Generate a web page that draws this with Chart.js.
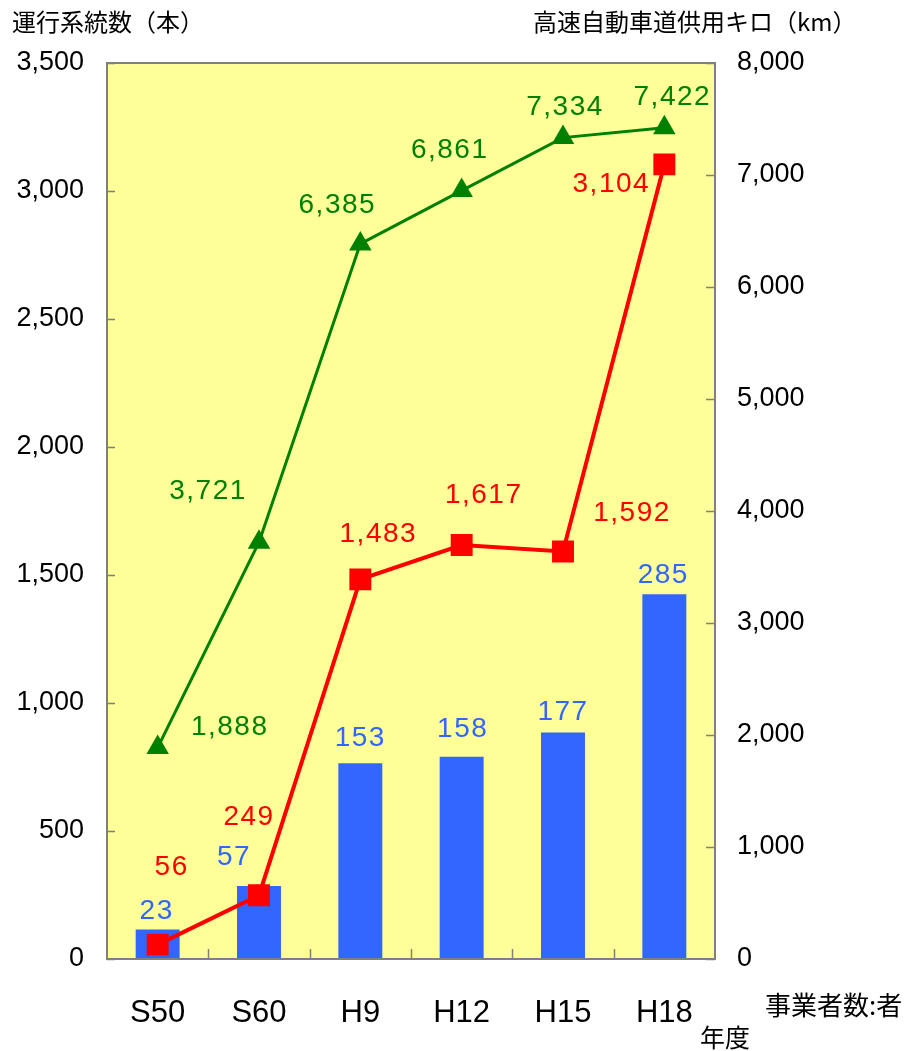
<!DOCTYPE html>
<html lang="ja">
<head>
<meta charset="utf-8">
<title>運行系統数と高速自動車道供用キロ</title>
<script src="https://cdn.jsdelivr.net/npm/chart.js@4.4.0/dist/chart.umd.min.js"></script>
<style>
  html, body { margin: 0; padding: 0; background: #ffffff; }
  #chartWrap { position: relative; width: 911px; height: 1051px; }
</style>
</head>
<body>
<div id="chartWrap"><canvas id="routeChart" width="911" height="1051"></canvas></div>
<script>
const years = ['S50', 'S60', 'H9', 'H12', 'H15', 'H18'];
const operatorCounts = [23, 57, 153, 158, 177, 285];        // 事業者数 (者)
const routeCounts = [56, 249, 1483, 1617, 1592, 3104];      // 運行系統数 (本)
const expresswayKm = [1888, 3721, 6385, 6861, 7334, 7422];  // 高速自動車道供用キロ (km)

const routeTicks = { max: 3500, step: 500 };
const kmTicks = { max: 8000, step: 1000 };
const operatorMax = 700;   // bars share the left scale at 1 : 5

// value labels are nudged off their marks by these pixel offsets
const operatorLabelShift = [[-2, -18], [-26, -29], [-1, -25], [0, -27], [-1, -20], [-2, -19]];
const routeLabelShift = [[13, -77], [-11, -78], [17, -45], [21, -50], [68, -38], [-54, 20]];
const kmLabelShift = [[71, -20], [-52, -51], [-24, -39], [-13, -40], [1, -30], [7, -30]];

const COLORS = {
    plot: '#ffff99',
    frame: '#808080',
    bar: '#3366ff',
    route: '#ff0000',
    km: '#008000',
    text: '#000000'
};
const NUM_FONT = "'Liberation Sans Narrow', 'Liberation Sans', sans-serif";
const JP_FONT = "'Noto Sans CJK JP', sans-serif";

const fmt = v => v.toLocaleString('en-US');

const plotDecor = {
    id: 'plotDecor',
    beforeDatasetsDraw(chart) {
        const { ctx, chartArea: a } = chart;
        ctx.save();
        ctx.fillStyle = COLORS.plot;
        ctx.fillRect(a.left, a.top, a.width, a.height);
        ctx.restore();
    },
    afterDatasetsDraw(chart) {
        const { ctx, chartArea: a, scales } = chart;
        ctx.save();
        ctx.strokeStyle = COLORS.frame;
        ctx.lineWidth = 2;
        ctx.strokeRect(a.left, a.top, a.width, a.height);

        // inward tick marks
        ctx.beginPath();
        for (let v = 0; v <= routeTicks.max; v += routeTicks.step) {
            const y = Math.round(scales.y.getPixelForValue(v)) + 0.5;
            ctx.moveTo(a.left, y);
            ctx.lineTo(a.left + 8, y);
        }
        for (let v = 0; v <= kmTicks.max; v += kmTicks.step) {
            const y = Math.round(scales.y2.getPixelForValue(v)) + 0.5;
            ctx.moveTo(a.right, y);
            ctx.lineTo(a.right - 9, y);
        }
        for (let i = 1; i < years.length; i++) {
            const x = Math.round(scales.x.getPixelForValue(i - 0.5)) + 0.5;
            ctx.moveTo(x, a.bottom);
            ctx.lineTo(x, a.bottom - 10);
        }
        ctx.lineWidth = 1.5;
        ctx.stroke();

        // value labels
        ctx.font = '28px ' + NUM_FONT;
        ctx.letterSpacing = '1.5px';
        ctx.textAlign = 'center';
        ctx.textBaseline = 'middle';
        const series = [
            [0, operatorCounts, operatorLabelShift, COLORS.bar],
            [1, routeCounts, routeLabelShift, COLORS.route],
            [2, expresswayKm, kmLabelShift, COLORS.km]
        ];
        series.forEach(([idx, values, shift, color]) => {
            const meta = chart.getDatasetMeta(idx);
            ctx.fillStyle = color;
            meta.data.forEach((el, i) => {
                ctx.fillText(fmt(values[i]), el.x + shift[i][0] + 1, el.y + shift[i][1]);
            });
        });
        ctx.restore();
    },
    afterDraw(chart) {
        const { ctx } = chart;
        ctx.save();
        ctx.fillStyle = COLORS.text;
        ctx.textBaseline = 'middle';
        ctx.textAlign = 'left';
        ctx.font = '24px ' + JP_FONT;
        ctx.fillText('運行系統数（本）', 12, 22);
        ctx.fillText('高速自動車道供用キロ（km）', 533, 22);
        ctx.font = '26px ' + JP_FONT;
        ctx.fillText('事業者数:者', 765, 1005);
        ctx.font = '25px ' + JP_FONT;
        ctx.fillText('年度', 700, 1037);
        ctx.restore();
    }
};

class RouteChartPage {
    constructor(canvasId) {
        this.canvas = document.getElementById(canvasId);
        this.chart = null;
    }

    init() {
        this.chart = new Chart(this.canvas, {
            data: {
                labels: years,
                datasets: [
                    {
                        type: 'bar',
                        label: '事業者数',
                        data: operatorCounts,
                        yAxisID: 'yBar',
                        backgroundColor: COLORS.bar,
                        borderWidth: 0,
                        categoryPercentage: 1,
                        barPercentage: 0.434,
                        order: 3
                    },
                    {
                        type: 'line',
                        label: '運行系統数',
                        data: routeCounts,
                        yAxisID: 'y',
                        borderColor: COLORS.route,
                        backgroundColor: COLORS.route,
                        borderWidth: 4,
                        pointStyle: 'rect',
                        pointRadius: 15.5,
                        pointBorderWidth: 0,
                        tension: 0,
                        order: 1
                    },
                    {
                        type: 'line',
                        label: '高速自動車道供用キロ',
                        data: expresswayKm,
                        yAxisID: 'y2',
                        borderColor: COLORS.km,
                        backgroundColor: COLORS.km,
                        borderWidth: 3,
                        pointStyle: 'triangle',
                        pointRadius: 13,
                        pointBorderWidth: 0,
                        tension: 0,
                        order: 2
                    }
                ]
            },
            options: {
                responsive: false,
                animation: false,
                devicePixelRatio: 1,
                layout: { padding: { top: 63, left: 0, right: 0, bottom: 0 } },
                plugins: { legend: { display: false }, tooltip: { enabled: false } },
                scales: {
                    x: {
                        offset: true,
                        grid: { display: false, drawTicks: false },
                        border: { display: false },
                        ticks: {
                            color: COLORS.text,
                            font: { family: NUM_FONT, size: 31 },
                            padding: 36,
                            maxRotation: 0
                        },
                        afterFit: s => { s.height = 92; }
                    },
                    y: {
                        position: 'left',
                        min: 0,
                        max: routeTicks.max,
                        grid: { display: false, drawTicks: false },
                        border: { display: false },
                        ticks: {
                            stepSize: routeTicks.step,
                            color: COLORS.text,
                            font: { family: NUM_FONT, size: 27 },
                            padding: 23,
                            callback: v => fmt(v)
                        },
                        afterFit: s => { s.width = 107; }
                    },
                    y2: {
                        position: 'right',
                        min: 0,
                        max: kmTicks.max,
                        grid: { display: false, drawTicks: false },
                        border: { display: false },
                        ticks: {
                            stepSize: kmTicks.step,
                            color: COLORS.text,
                            font: { family: NUM_FONT, size: 27 },
                            padding: 22,
                            callback: v => fmt(v)
                        },
                        afterFit: s => { s.width = 196; }
                    },
                    yBar: {
                        display: false,
                        min: 0,
                        max: operatorMax
                    }
                }
            },
            plugins: [plotDecor]
        });
    }
}

document.addEventListener('DOMContentLoaded', () => {
    const page = new RouteChartPage('routeChart');
    page.init();
});
</script>
</body>
</html>
